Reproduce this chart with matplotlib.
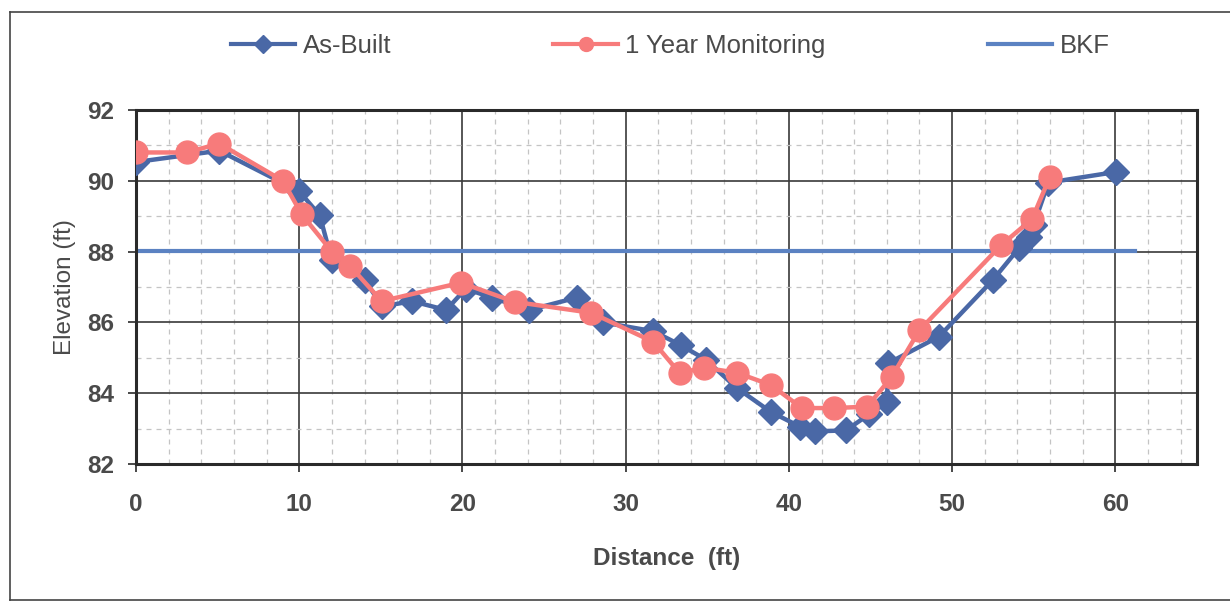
import matplotlib
matplotlib.use("Agg")
import matplotlib.pyplot as plt
from matplotlib.lines import Line2D

plt.rcParams['font.family'] = ['Liberation Sans', 'DejaVu Sans']

# As-Built survey
asbuilt_x = [0, 5.1, 10.0, 11.25, 12.0, 14.0, 15.1, 16.9, 19.0, 20.2, 21.8, 24.1,
             27.0, 28.6, 31.7, 33.4, 34.9, 36.8, 38.9, 40.7, 41.6, 43.5, 44.9,
             46.0, 46.1, 49.2, 52.5, 54.1, 54.7, 55.0, 55.9, 60.05]
asbuilt_y = [90.53, 90.85, 89.7, 89.03, 87.75, 87.2, 86.45, 86.6, 86.35, 86.95, 86.7, 86.35,
             86.7, 86.0, 85.75, 85.35, 84.95, 84.15, 83.47, 83.05, 82.92, 82.95, 83.4,
             83.75, 84.85, 85.6, 87.2, 88.1, 88.4, 88.75, 89.95, 90.25]

# 1 Year Monitoring survey
mon_x = [0, 3.1, 5.1, 9.0, 10.15, 12.0, 13.1, 15.05, 19.9, 23.2, 27.9, 31.7,
         33.3, 34.8, 36.8, 38.9, 40.8, 42.75, 44.8, 46.3, 48.0, 53.0, 54.9, 56.0]
mon_y = [90.8, 90.8, 91.05, 90.0, 89.05, 88.0, 87.6, 86.6, 87.12, 86.58, 86.27, 85.45,
         84.57, 84.72, 84.58, 84.23, 83.58, 83.58, 83.62, 84.46, 85.78, 88.18, 88.92, 90.12]

# Bankfull elevation
bkf_x = [0, 61.2]
bkf_y = [88.02, 88.02]

blue = '#4a68a6'
red = '#f77b7b'
bkf_col = '#5b82c2'
txt = '#4a4a4a'

fig = plt.figure(figsize=(12.3, 6.11), dpi=100)
ax = fig.add_axes([0.1106, 0.2406, 0.8625, 0.5794])

ax.plot(asbuilt_x, asbuilt_y, color=blue, lw=3.2, marker='D', ms=13,
        markeredgecolor=blue, zorder=3)
ax.plot(mon_x, mon_y, color=red, lw=3.2, marker='o', ms=16.5,
        markeredgecolor=red, zorder=4)
ax.plot(bkf_x, bkf_y, color=bkf_col, lw=3, zorder=2)

ax.set_xlim(0, 65)
ax.set_ylim(82, 92)
ax.set_xticks(range(0, 61, 10))
ax.set_xticks(range(0, 65, 2), minor=True)
ax.set_yticks(range(82, 93, 2))
ax.set_yticks(range(83, 92, 2), minor=True)

ax.grid(which='major', color='#3a3a3a', lw=1.2)
ax.grid(which='minor', color='#c4c4c4', lw=0.9, ls=(0, (4, 4)))
ax.set_axisbelow(True)
for s in ax.spines.values():
    s.set_color('#2a2a2a')
    s.set_linewidth(2.2)

ax.tick_params(which='major', direction='out', length=6, width=1.2, colors='#2a2a2a',
               labelcolor=txt, labelsize=17.5, pad=10)
ax.tick_params(axis='x', which='major', pad=15)
ax.tick_params(which='minor', length=0)
for lab in ax.get_xticklabels() + ax.get_yticklabels():
    lab.set_fontweight('bold')

ax.set_xlabel('Distance  (ft)', fontsize=17.5, color=txt, fontweight='bold', labelpad=22)
ax.set_ylabel('Elevation (ft)', fontsize=17.5, color=txt, labelpad=8)

handles = [Line2D([], [], color=blue, lw=3, marker='D', ms=9),
           Line2D([], [], color=red, lw=3, marker='o', ms=10),
           Line2D([], [], color=bkf_col, lw=3)]
fig.legend(handles, ['As-Built', '1 Year Monitoring', 'BKF'], loc='center',
           bbox_to_anchor=(0.545, 0.925), ncol=3, frameon=False, fontsize=18.5,
           handlelength=2.5, handletextpad=0.3, columnspacing=6.3,
           labelcolor=txt)

# outer chart border
fig.add_artist(Line2D([0.008, 1.0], [0.98, 0.98], color='#444444', lw=1.2))
fig.add_artist(Line2D([0.008, 0.008], [0.98, 0.018], color='#444444', lw=1.2))
fig.add_artist(Line2D([0.008, 1.0], [0.018, 0.018], color='#444444', lw=1.2))

fig.savefig('out.png', dpi=100)
